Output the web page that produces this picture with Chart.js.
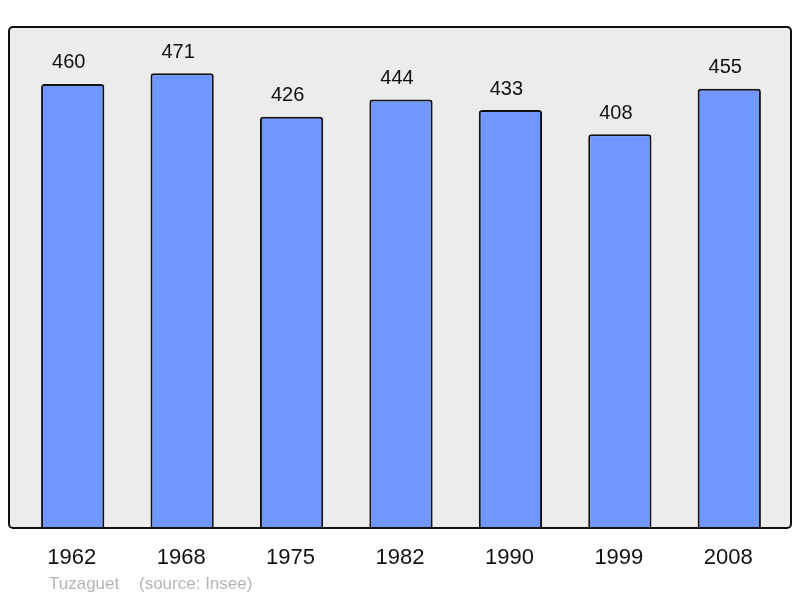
<!DOCTYPE html>
<html><head><meta charset="utf-8">
<script src="https://cdn.jsdelivr.net/npm/chart.js@4/dist/chart.umd.min.js"></script>
<style>html,body{margin:0;padding:0;background:#fff}#wrap{width:800px;height:598px}</style>
</head><body><div id="wrap"><canvas id="c" width="800" height="598"></canvas></div>
<script>
const years = ["1962","1968","1975","1982","1990","1999","2008"];
const population = [460,471,426,444,433,408,455];
const commune = "Tuzaguet";
const sourceText = "(source: Insee)";

const deco = {
  id: 'deco',
  beforeDraw(chart) {
    const ctx = chart.ctx, a = chart.chartArea;
    const x0 = a.left - 9, x1 = a.right + 7, y0 = a.top, y1 = a.bottom;
    ctx.save();
    ctx.beginPath();
    ctx.roundRect(x0, y0, x1 - x0, y1 - y0, 4);
    ctx.fillStyle = '#ececec';
    ctx.fill();
    ctx.restore();
  },
  afterDatasetsDraw(chart) {
    const ctx = chart.ctx, a = chart.chartArea;
    const x0 = a.left - 9, x1 = a.right + 7, y0 = a.top, y1 = a.bottom;
    ctx.save();
    ctx.beginPath();
    ctx.roundRect(x0, y0, x1 - x0, y1 - y0, 4);
    ctx.lineWidth = 2;
    ctx.strokeStyle = '#111';
    ctx.stroke();
    const meta = chart.getDatasetMeta(0);
    ctx.fillStyle = '#111';
    ctx.textAlign = 'center';
    ctx.textBaseline = 'middle';
    ctx.font = '20px "Liberation Sans", Arial, sans-serif';
    meta.data.forEach((bar, i) => {
      ctx.fillText(String(population[i]), bar.x - 4, bar.y - 21);
    });
    ctx.font = '22px "Liberation Sans", Arial, sans-serif';
    const xs = chart.scales.x;
    years.forEach((y, i) => {
      ctx.fillText(y, xs.getPixelForValue(i) - 1, y1 + 30);
    });
    ctx.fillStyle = '#b5b5b5';
    ctx.textAlign = 'left';
    ctx.font = '17px "Liberation Sans", Arial, sans-serif';
    ctx.fillText(commune, 49, 584);
    ctx.fillText(sourceText, 139, 584);
    ctx.restore();
  }
};

new Chart(document.getElementById('c'), {
  type: 'bar',
  data: {
    labels: years,
    datasets: [{
      data: population,
      backgroundColor: '#7097ff',
      borderColor: '#111',
      borderWidth: 2,
      borderRadius: 3,
      borderSkipped: 'bottom',
      barPercentage: 0.578,
      categoryPercentage: 1.0
    }]
  },
  options: {
    responsive: false,
    animation: false,
    events: [],
    layout: { padding: { left: 18, right: 16, top: 27, bottom: 70 } },
    plugins: { legend: { display: false }, tooltip: { enabled: false } },
    scales: {
      x: { display: false },
      y: { display: false, min: 0, max: 519 }
    }
  },
  plugins: [deco]
});
</script>
</body></html>
